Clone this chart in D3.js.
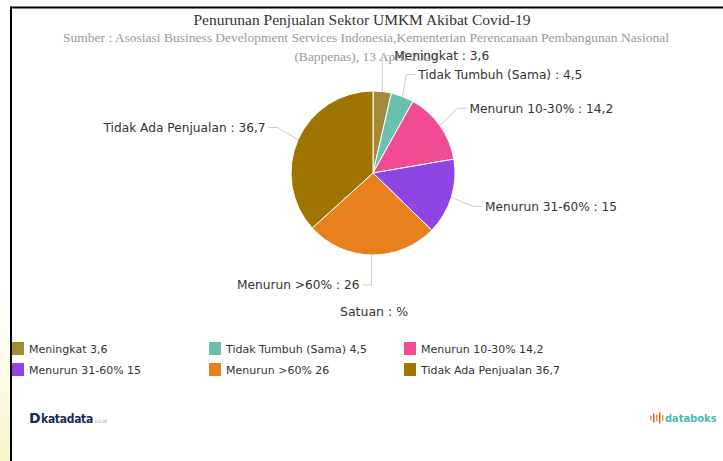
<!DOCTYPE html>
<html><head><meta charset="utf-8">
<script src="https://cdn.jsdelivr.net/npm/d3@7"></script>
<style>html,body{margin:0;padding:0;background:#fff;}svg{display:block;}</style>
</head><body>
<svg id="chart" width="723" height="461"></svg>
<script>
const categories = ["Meningkat","Tidak Tumbuh (Sama)","Menurun 10-30%","Menurun 31-60%","Menurun >60%","Tidak Ada Penjualan"];
const values = [3.6, 4.5, 14.2, 15, 26, 36.7];
const valueLabels = ["3,6","4,5","14,2","15","26","36,7"];
const colors = ["#A08C36","#6BBFAE","#F04B93","#8E45E3","#E8801D","#9E7500"];
const title = "Penurunan Penjualan Sektor UMKM Akibat Covid-19";
const subtitle1 = "Sumber : Asosiasi Business Development Services Indonesia,Kementerian Perencanaan Pembangunan Nasional";
const subtitle2 = "(Bappenas), 13 April 2020";
const unitLabel = "Satuan : %";

const svg = d3.select("#chart");
const grad = svg.append("defs").append("linearGradient").attr("id","wm").attr("x1",0).attr("y1",0).attr("x2",0).attr("y2",1);
grad.append("stop").attr("offset","0%").attr("stop-color","#fffbe0").attr("stop-opacity",0);
grad.append("stop").attr("offset","100%").attr("stop-color","#f6f6c8").attr("stop-opacity",1);
svg.append("rect").attr("x",0).attr("y",280).attr("width",10).attr("height",181).attr("fill","url(#wm)");
svg.append("line").attr("x1",10).attr("x2",723).attr("y1",7.5).attr("y2",7.5).attr("stroke","#000").attr("stroke-width",2);
svg.append("line").attr("x1",11).attr("x2",11).attr("y1",6.5).attr("y2",461).attr("stroke","#000").attr("stroke-width",2);

svg.append("text").attr("x",362).attr("y",25).attr("text-anchor","middle")
  .attr("font-family","Liberation Serif, serif").attr("font-size",15.5).attr("fill","#333").text(title);
svg.append("text").attr("x",366).attr("y",42).attr("text-anchor","middle")
  .attr("font-family","Liberation Serif, serif").attr("font-size",13.5).attr("fill","#9a9a9a").text(subtitle1);
svg.append("text").attr("x",366).attr("y",61).attr("text-anchor","middle")
  .attr("font-family","Liberation Serif, serif").attr("font-size",13.5).attr("fill","#9a9a9a").text(subtitle2);

const cx = 373, cy = 173, r = 82, dist = 30;
const pie = d3.pie().sort(null).value(d => d)(values);
const arc = d3.arc().innerRadius(0).outerRadius(r);
const g = svg.append("g").attr("transform",`translate(${cx},${cy})`);
g.selectAll("path").data(pie).join("path").attr("d",arc)
  .attr("fill",(d,i)=>colors[i]).attr("stroke","#fff").attr("stroke-width",1);

const labs = pie.map((d,i)=>{
  const a = (d.startAngle + d.endAngle)/2;
  const side = Math.sin(a) >= 0 ? 1 : -1;
  const y0 = cy - (r+dist)*Math.cos(a);
  return {i, a, side, y0, y: y0, ex: cx + r*Math.sin(a), ey: cy - r*Math.cos(a)};
});
[1,-1].forEach(s=>{
  const arr = labs.filter(l=>l.side===s).sort((p,q)=>p.y-q.y);
  for(let k=0;k<5;k++){
    for(let j=1;j<arr.length;j++){
      const gap = arr[j].y - arr[j-1].y;
      if(gap < 19){ const sh=(19-gap)/2; arr[j].y+=sh; arr[j-1].y-=sh; }
    }
  }
});
labs.forEach(l=>{
  const dy = l.y0 - cy;
  let tx = cx + l.side*(Math.sqrt(Math.max(0,(r+dist)**2 - dy*dy)) + 5);
  if(l.side>0) tx = Math.max(tx, l.ex+12); else tx = Math.min(tx, l.ex-12);
  let bx = tx - l.side*12;
  if(l.side>0) bx = Math.max(bx, l.ex); else bx = Math.min(bx, l.ex);
  const endx = tx - l.side*3;
  svg.append("path").attr("d",`M${l.ex},${l.ey}L${bx},${l.y}L${endx},${l.y}`)
    .attr("fill","none").attr("stroke","#cccccc").attr("stroke-width",1);
  svg.append("text").attr("x",tx).attr("y",l.y+4.5)
    .attr("text-anchor",l.side>0?"start":"end")
    .attr("font-family","DejaVu Sans, sans-serif").attr("font-size",12.2).attr("fill","#333")
    .text(`${categories[l.i]} : ${valueLabels[l.i]}`);
});

svg.append("text").attr("x",374).attr("y",316).attr("text-anchor","middle")
  .attr("font-family","DejaVu Sans, sans-serif").attr("font-size",12.5).attr("fill","#333").text(unitLabel);

const colX = [11, 208, 403], rowY = [349, 370];
categories.forEach((c,i)=>{
  const x = colX[i%3], y = rowY[Math.floor(i/3)];
  svg.append("rect").attr("x",x+1).attr("y",y-7).attr("width",12).attr("height",13).attr("fill",colors[i]);
  svg.append("text").attr("x",x+18).attr("y",y+4).attr("font-family","DejaVu Sans, sans-serif")
    .attr("font-size",11).attr("fill","#333").text(`${c} ${valueLabels[i]}`);
});

svg.append("text").attr("x",29).attr("y",423).attr("font-family","DejaVu Sans, sans-serif").attr("font-weight","bold")
  .attr("font-size",14).attr("fill","#1d2a5c").text("D");
svg.append("text").attr("x",41).attr("y",423).attr("font-family","DejaVu Sans Condensed, DejaVu Sans, sans-serif").attr("font-weight","bold")
  .attr("font-size",12).attr("fill","#1d2a5c").attr("letter-spacing",-0.3).text("katadata");
svg.append("text").attr("x",95).attr("y",423).attr("font-family","DejaVu Sans, sans-serif")
  .attr("font-size",5).attr("fill","#8a93b0").text("co.id");
const bars = [[650,5],[653,9],[656,7],[659,11],[662,6]];
bars.forEach((b,i)=>svg.append("rect").attr("x",b[0]).attr("y",418-b[1]/2).attr("width",1.5).attr("height",b[1])
  .attr("fill", i%2? "#e8523a":"#f29a2e"));
svg.append("text").attr("x",665).attr("y",422).attr("font-family","DejaVu Sans Condensed, DejaVu Sans, sans-serif").attr("font-weight","bold")
  .attr("font-size",11).attr("fill","#4db8b4").text("databoks");
</script>
</body></html>
